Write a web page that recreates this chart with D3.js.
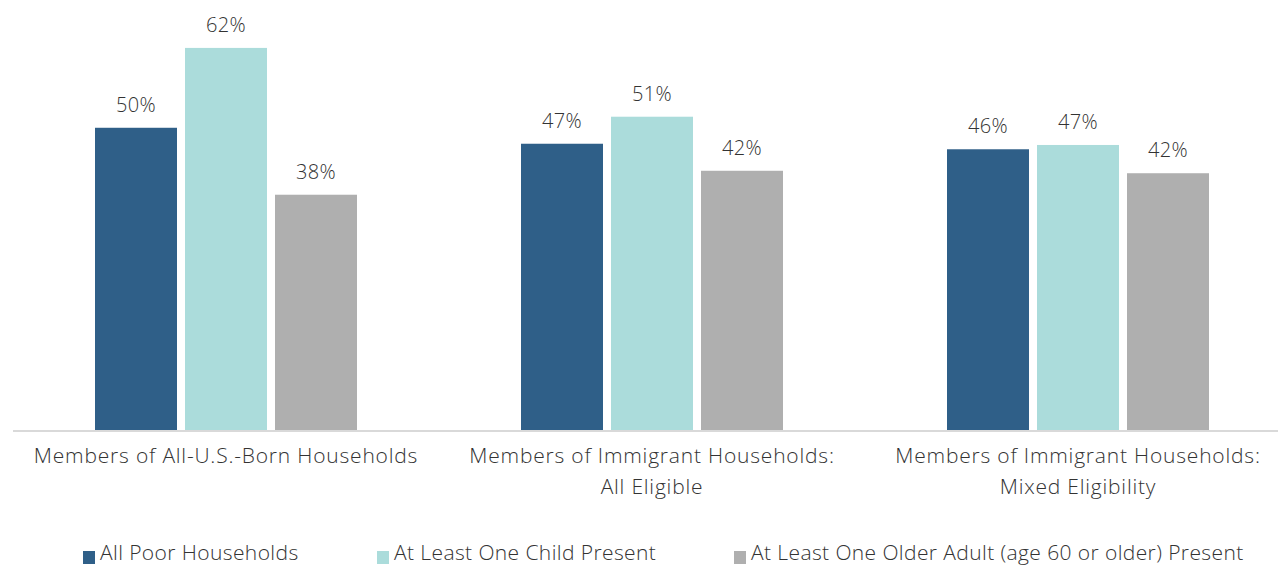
<!DOCTYPE html>
<html>
<head>
<meta charset="utf-8">
<script src="https://cdn.jsdelivr.net/npm/d3@7"></script>
<style>
  body { margin: 0; background: #fff; overflow: hidden; }
  svg text { font-family: "Open Sans", sans-serif; font-weight: 300; fill: #333; }
</style>
</head>
<body>
<svg id="drawing_region"></svg>
<script>
// categories (two lines each)
const categories = [
    ['Members of All-U.S.-Born Households'],
    ['Members of Immigrant Households:', 'All Eligible'],
    ['Members of Immigrant Households:', 'Mixed Eligibility']
];
const seriesNames = ['All Poor Households', 'At Least One Child Present', 'At Least One Older Adult (age 60 or older) Present'];
const colors = ['#2f5f88', '#abdcdb', '#afafaf'];

// estimated values (percent) per series, per category
const allPoor = [49.2, 46.6, 45.7];
const withChild = [62.2, 51.0, 46.4];
const withOlder = [38.3, 42.2, 41.8];
// labels as printed on the chart
const allPoorLabels = ['50%', '47%', '46%'];
const withChildLabels = ['62%', '51%', '47%'];
const withOlderLabels = ['38%', '42%', '42%'];

const seriesValues = [allPoor, withChild, withOlder];
const seriesLabels = [allPoorLabels, withChildLabels, withOlderLabels];

const width = 1278, height = 565;
const svg = d3.select('#drawing_region').attr('width', width).attr('height', height);

const baseline = 430;
const xscale = d3.scaleBand()
    .domain(d3.range(categories.length))
    .range([13, 13 + 426 * 3]);
const inner = d3.scaleBand()
    .domain(d3.range(seriesNames.length))
    .range([82, 344])
    .paddingInner(0.0889);
const yscale = d3.scaleLinear()
    .domain([0, 70])
    .range([baseline, 0]);

const bars = [];
seriesValues.forEach((vals, s) => {
    vals.forEach((v, c) => bars.push({ s, c, v, label: seriesLabels[s][c] }));
});

const chart = svg.append('g');

chart.selectAll('rect.bar').data(bars).enter()
    .append('rect')
    .attr('class', 'bar')
    .attr('x', d => xscale(d.c) + inner(d.s))
    .attr('y', d => yscale(d.v))
    .attr('width', inner.bandwidth())
    .attr('height', d => baseline - yscale(d.v))
    .attr('fill', d => colors[d.s]);

chart.selectAll('text.val').data(bars).enter()
    .append('text')
    .attr('class', 'val')
    .attr('x', d => xscale(d.c) + inner(d.s) + inner.bandwidth() / 2)
    .attr('y', d => yscale(d.v) - 16)
    .attr('text-anchor', 'middle')
    .attr('font-size', 20)
    .attr('letter-spacing', 0.3)
    .text(d => d.label);

// axis line
chart.append('line')
    .attr('x1', 13).attr('x2', width)
    .attr('y1', baseline + 1).attr('y2', baseline + 1)
    .attr('stroke', '#d9d9d9').attr('stroke-width', 2);

// category labels
const cat = chart.selectAll('text.cat').data(categories).enter()
    .append('text')
    .attr('class', 'cat')
    .attr('text-anchor', 'middle')
    .attr('font-size', 21)
    .attr('letter-spacing', 0.8);
cat.selectAll('tspan').data((d, i) => d.map(line => ({ line, i }))).enter()
    .append('tspan')
    .attr('x', d => xscale(d.i) + xscale.bandwidth() / 2)
    .attr('y', (d, j) => 463 + j * 31)
    .text(d => d.line);

// legend
const legendX = [83, 377, 734];
const legend = svg.selectAll('g.legend').data(seriesNames).enter()
    .append('g')
    .attr('class', 'legend')
    .attr('transform', (d, i) => `translate(${legendX[i]}, 551)`);
legend.append('rect')
    .attr('width', 12).attr('height', 13)
    .attr('fill', (d, i) => colors[i]);
legend.append('text')
    .attr('x', 17).attr('y', 9)
    .attr('font-size', 21)
    .attr('letter-spacing', 0.4)
    .text(d => d);
</script>
</body>
</html>
